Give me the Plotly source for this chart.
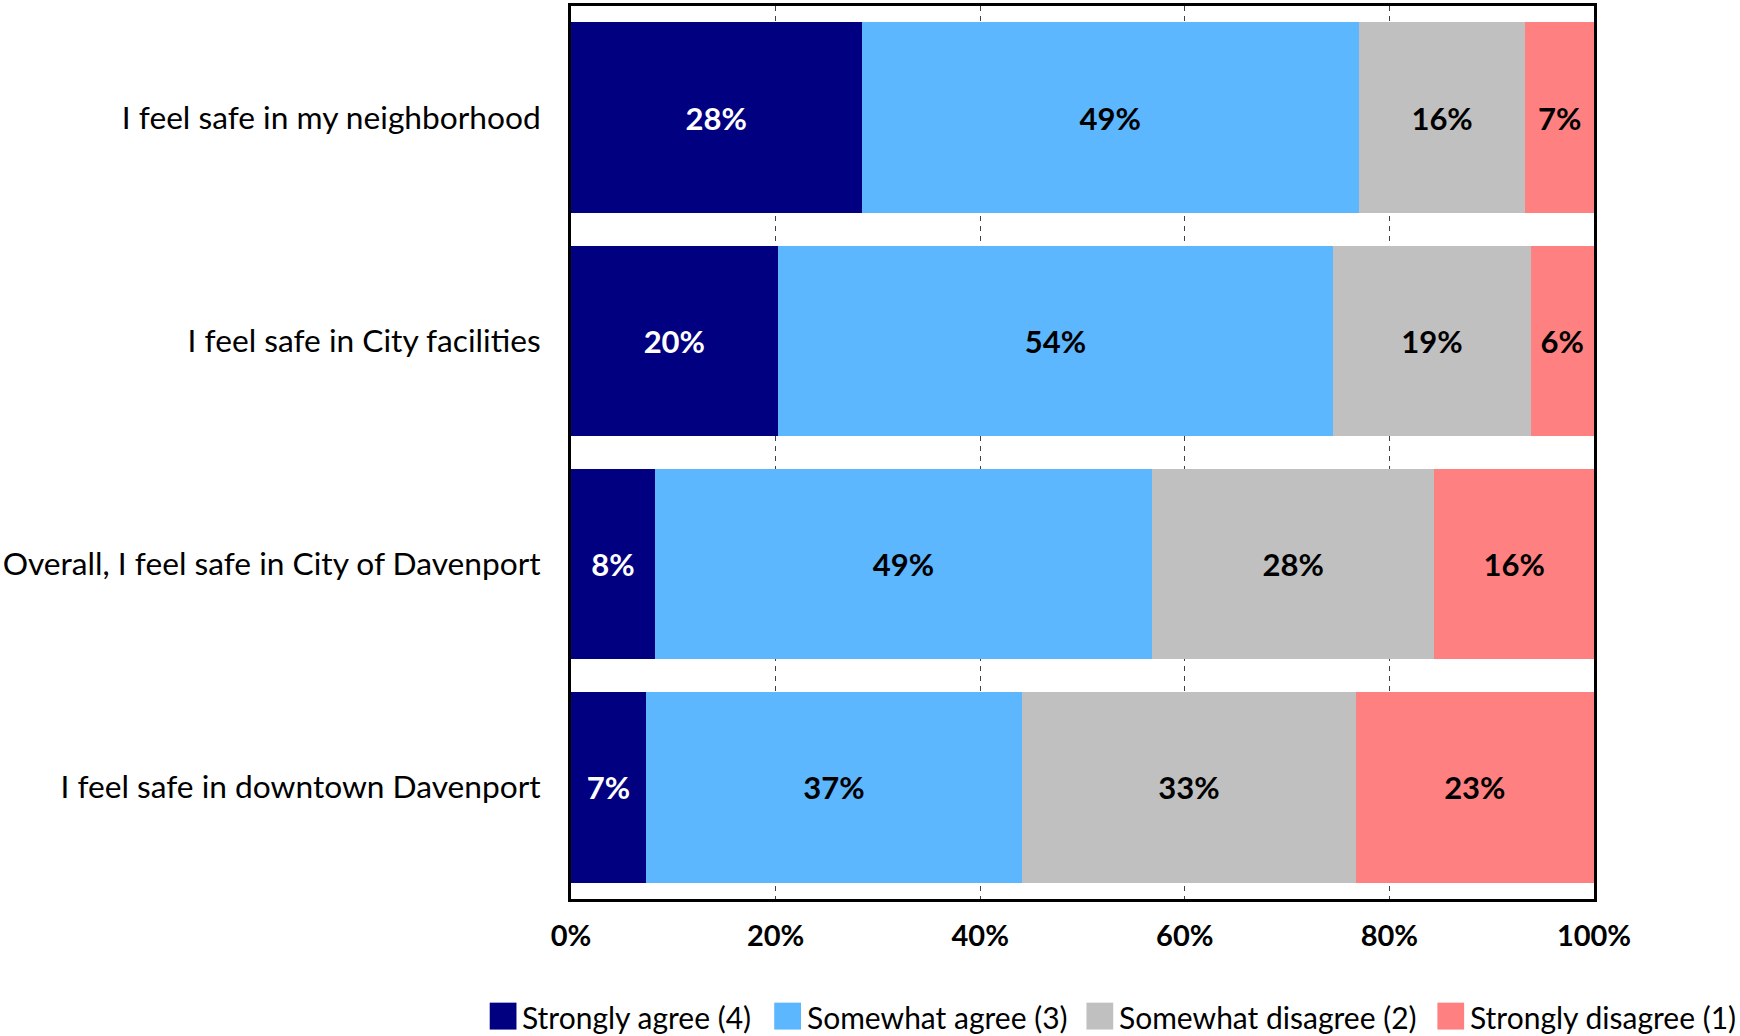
import plotly.graph_objects as go

categories = [
    "I feel safe in my neighborhood",
    "I feel safe in City facilities",
    "Overall, I feel safe in City of Davenport",
    "I feel safe in downtown Davenport",
]
series_names = ["Strongly agree (4)", "Somewhat agree (3)", "Somewhat disagree (2)", "Strongly disagree (1)"]
strongly_agree = [28.4, 20.2, 8.2, 7.3]
somewhat_agree = [48.6, 54.3, 48.6, 36.8]
somewhat_disagree = [16.3, 19.3, 27.6, 32.6]
strongly_disagree = [6.7, 6.2, 15.6, 23.3]
tick_vals = [0, 20, 40, 60, 80, 100]
tick_text = ["0%", "20%", "40%", "60%", "80%", "100%"]

colors = ["#000080", "#5CB7FF", "#C0C0C0", "#FF8080"]
text_colors = ["white", "black", "black", "black"]
series = [strongly_agree, somewhat_agree, somewhat_disagree, strongly_disagree]

FONT = "Lato"
FS_DATA = 31
FS_CAT = 31.7
FS_TICK = 29
FS_LEG = 30

fig = go.Figure()
for name, vals, col, tcol in zip(series_names, series, colors, text_colors):
    fig.add_trace(go.Bar(
        y=categories, x=vals, name=name, orientation="h",
        marker=dict(color=col, line=dict(width=0)),
        texttemplate="%{x:.0f}%", textposition="inside",
        insidetextanchor="middle", textangle=0,
        textfont=dict(family=FONT, size=FS_DATA, color=tcol, weight="bold"),
        showlegend=False,
    ))

W, H = 1740, 1036
L, R, T, B = 562, 1594, 3, 899
pw, ph = R - L, B - T

def px_x(px):
    return (px - L) / pw

def px_y(py):
    return (B - py) / ph

# manual legend (large square swatches)
swatch_x = [480, 767, 1082, 1436]
shapes = []
annotations = []
for sx, col, name in zip(swatch_x, colors, series_names):
    shapes.append(dict(type="rect", xref="paper", yref="paper",
                       x0=px_x(sx), x1=px_x(sx + 27), y0=px_y(1030), y1=px_y(1003),
                       fillcolor=col, line=dict(width=0)))
    annotations.append(dict(xref="paper", yref="paper", x=px_x(sx + 31), y=px_y(1017),
                            xanchor="left", yanchor="middle", text=name, showarrow=False,
                            font=dict(family=FONT, size=FS_LEG, color="black")))

fig.update_layout(
    barmode="stack",
    bargap=0.147,
    width=W, height=H,
    margin=dict(l=L, r=W - R, t=T, b=H - B, pad=0),
    plot_bgcolor="white", paper_bgcolor="white",
    font=dict(family=FONT, size=FS_DATA, color="black"),
    uniformtext=dict(minsize=FS_DATA, mode="show"),
    shapes=shapes,
    annotations=annotations,
)
fig.update_xaxes(
    range=[0, 100], tickvals=tick_vals, ticktext=tick_text,
    tickfont=dict(family=FONT, size=FS_TICK, color="black", weight="bold"),
    showgrid=True, gridcolor="#404040", gridwidth=1, griddash="5px,5px",
    showline=True, linecolor="black", linewidth=3, mirror=True,
    ticks="outside", ticklen=9, tickcolor="rgba(0,0,0,0)",
    zeroline=False, fixedrange=True,
)
fig.update_yaxes(
    categoryorder="array", categoryarray=categories, autorange="reversed",
    tickfont=dict(family=FONT, size=FS_CAT, color="black"),
    showline=True, linecolor="black", linewidth=3, mirror=True,
    ticks="outside", ticklen=21, tickcolor="rgba(0,0,0,0)",
    showgrid=False, fixedrange=True,
)

fig.write_html("out.html", config={"displayModeBar": False},
               post_script="document.body.style.margin='0';document.body.style.padding='0';")
